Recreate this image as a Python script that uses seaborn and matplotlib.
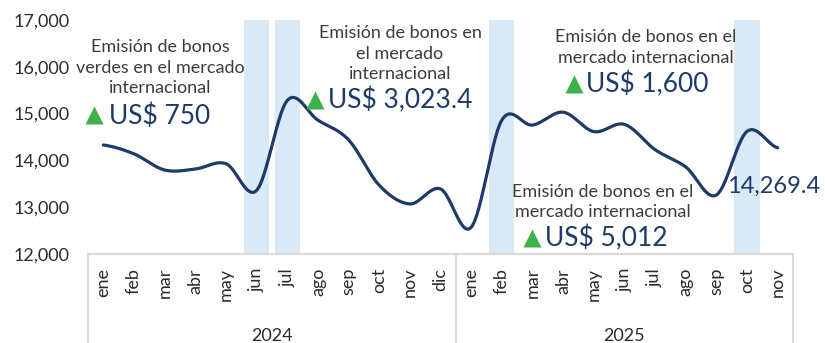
import numpy as np
import pandas as pd
import seaborn as sns
import matplotlib.pyplot as plt

# Monthly series (2024-2025)
months_2024 = ["ene", "feb", "mar", "abr", "may", "jun", "jul", "ago", "sep", "oct", "nov", "dic"]
months_2025 = ["ene", "feb", "mar", "abr", "may", "jun", "jul", "ago", "sep", "oct", "nov"]
years = ["2024", "2025"]
values = [14330, 14140, 13795, 13815, 13930, 13360, 15280, 14860, 14440, 13470, 13070, 13390,
          12570, 14860, 14755, 15030, 14615, 14770, 14230, 13860, 13260, 14620, 14269.4]

# Months with international bond issuance (shaded)
highlight = [("2024", "jun"), ("2024", "jul"), ("2025", "feb"), ("2025", "oct")]

note_texts = [
    "Emisión de bonos\nverdes en el mercado\ninternacional",
    "Emisión de bonos en\nel mercado\ninternacional",
    "Emisión de bonos en el\nmercado internacional",
    "Emisión de bonos en el\nmercado internacional",
]
note_amounts = ["US$ 750", "US$ 3,023.4", "US$ 1,600", "US$ 5,012"]

NAVY = "#1d3a68"
GREEN = "#3bb34a"
GRAY_TXT = "#3c3c3c"
BAND = "#d9e9f6"
RULE = "#d9d9d9"
TICK = "#2b2b2b"

sns.set_theme(style="white")
plt.rcParams["font.family"] = ["Lato", "DejaVu Sans"]

labels = [(years[0], m) for m in months_2024] + [(years[1], m) for m in months_2025]
df = pd.DataFrame({"pos": np.arange(len(values)), "value": values,
                   "year": [l[0] for l in labels], "month": [l[1] for l in labels]})


def catmull_rom(y, steps=40):
    """Smoothed curve through every point (spreadsheet-style smoothed line)."""
    y = np.asarray(y, float)
    p = np.concatenate([[y[0]], y, [y[-1]]])
    xs, ys = [], []
    t = np.linspace(0, 1, steps, endpoint=False)
    for i in range(len(y) - 1):
        p0, p1, p2, p3 = p[i], p[i + 1], p[i + 2], p[i + 3]
        ys.append(0.5 * (2 * p1 + (-p0 + p2) * t + (2 * p0 - 5 * p1 + 4 * p2 - p3) * t ** 2
                         + (-p0 + 3 * p1 - 3 * p2 + p3) * t ** 3))
        xs.append(i + t)
    xs.append([len(y) - 1])
    ys.append([y[-1]])
    return np.concatenate(xs), np.concatenate(ys)


sx, sy = catmull_rom(df["value"])
smooth = pd.DataFrame({"pos": sx, "value": sy})

fig = plt.figure(figsize=(8.25, 3.43), dpi=100)
ax = fig.add_axes([88 / 825, 1 - 254 / 343, 705 / 825, 234 / 343])

# shaded issuance months
for yr, m in highlight:
    i = labels.index((yr, m))
    ax.axvspan(i - 0.41, i + 0.41, color=BAND, lw=0, zorder=0)

sns.lineplot(data=smooth, x="pos", y="value", ax=ax, color=NAVY, lw=2.3,
             sort=False, zorder=3)

ax.set_xlim(-0.5, len(values) - 0.5)
ax.set_ylim(12000, 17000)
ax.set_yticks(range(12000, 17001, 1000))
ax.set_yticklabels([f"{v:,}" for v in range(12000, 17001, 1000)], fontsize=13, color=TICK)
ax.set_xticks(df["pos"])
ax.set_xticklabels(df["month"], rotation=90, fontsize=13, color=TICK, va="top")
ax.tick_params(axis="y", length=0, pad=13)
ax.tick_params(axis="x", length=0, pad=10)
ax.set_xlabel("")
ax.set_ylabel("")
for s in ["left", "right", "top"]:
    ax.spines[s].set_visible(False)
ax.spines["bottom"].set_color(RULE)
ax.spines["bottom"].set_linewidth(1.6)

# year grouping below the month labels
xt = ax.get_xaxis_transform()
n24 = len(months_2024)
for xv in [-0.5, n24 - 0.5, len(values) - 0.5]:
    ax.plot([xv, xv], [0, -0.40], transform=xt, color=RULE, lw=1.4, clip_on=False)
ax.text((n24 - 1) / 2, -0.372, years[0], transform=xt, ha="center", va="baseline",
        fontsize=13, color=TICK)
ax.text(n24 + (len(months_2025) - 1) / 2, -0.372, years[1], transform=xt, ha="center",
        va="baseline", fontsize=13, color=TICK)

# annotations: (text centre x, first baseline y), triangle (x, y), amount (left x, baseline y)
note_layout = [
    ((1.85, 16310), (-0.29, 14970), (0.20, 14778)),
    ((9.68, 16615), (6.89, 15280), (7.34, 15112)),
    ((17.70, 16520), (15.37, 15626), (15.74, 15447)),
    ((16.29, 13224), (13.98, 12335), (14.41, 12156)),
]
step = 438
for txt, amt, (tpos, tri, apos) in zip(note_texts, note_amounts, note_layout):
    for k, line in enumerate(txt.split("\n")):
        ax.text(tpos[0], tpos[1] - k * step, line, ha="center", va="baseline",
                fontsize=13, color=GRAY_TXT, zorder=5)
    ax.plot([tri[0]], [tri[1]], marker="^", ms=13.5, color=GREEN, mec="none",
            clip_on=False, zorder=5)
    ax.text(apos[0], apos[1], amt, ha="left", va="baseline", fontsize=19,
            color=NAVY, zorder=5)

# last value label
ax.text(20.36, 13297, f"{values[-1]:,.1f}", ha="left", va="baseline", fontsize=17,
        color=NAVY, zorder=5, clip_on=False)

fig.savefig("out.png", dpi=100)
